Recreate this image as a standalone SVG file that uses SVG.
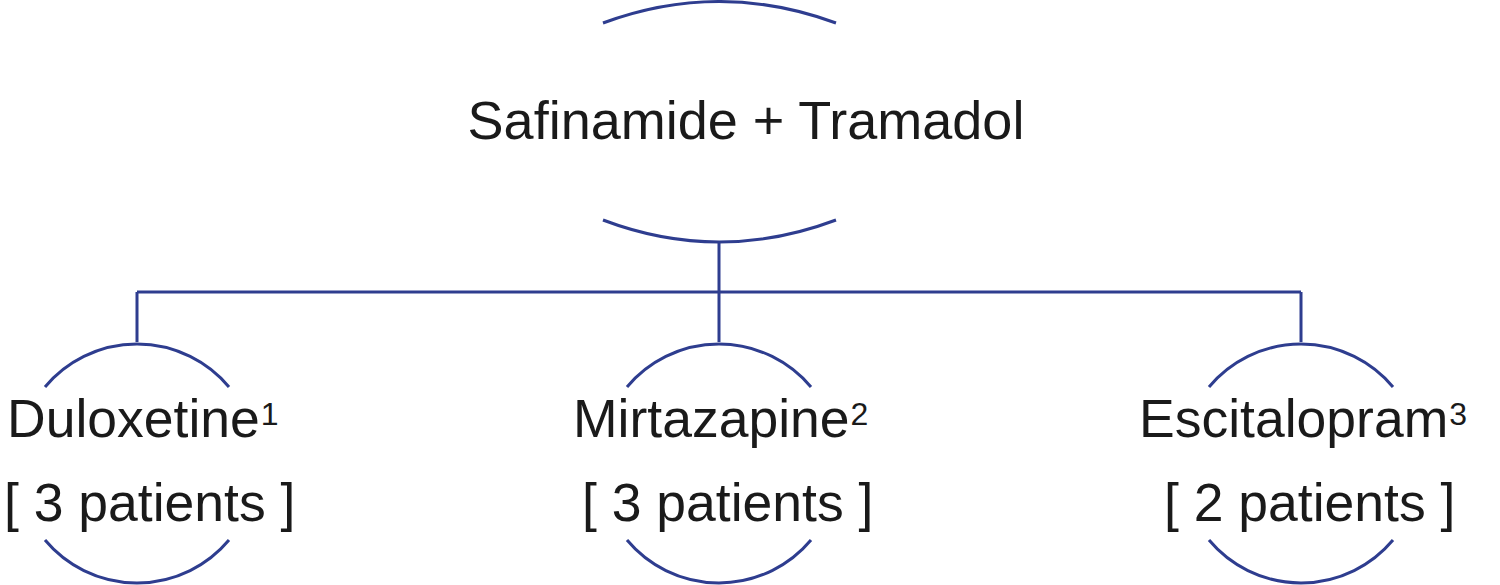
<svg xmlns="http://www.w3.org/2000/svg" width="1500" height="585" viewBox="0 0 1500 585">
<style>
.ln{fill:none;stroke:#2e3d8f;stroke-width:3;stroke-linecap:butt}
.t{font-family:"Liberation Sans",Arial,sans-serif;fill:#1a1a1a}
.big{font-size:54px}
.lab{font-size:53.5px}
.sup{font-size:32px}
</style>
<rect width="1500" height="585" fill="#ffffff"/>
<g id="connectors">
<path class="ln" d="M719,242 V292 M137,292 H1301 M137,292 V342 M719,292 V342 M1301,292 V342"/>
</g>
<g id="root">
<path class="ln" d="M603,23 Q719,-20 836,23"/>
<path class="ln" d="M603,220 Q719,264 836,220"/>
<text class="t big" x="746" y="139" text-anchor="middle">Safinamide + Tramadol</text>
</g>
<g id="duloxetine">
<path class="ln" d="M45,387 A120,120 0 0 1 229,387"/>
<path class="ln" d="M45,540 A120,120 0 0 0 229,540"/>
<text class="t lab" x="7" y="437">Duloxetine<tspan class="sup" dx="1" dy="-12">1</tspan></text>
<text class="t lab" x="4" y="521">[ 3 patients ]</text>
</g>
<g id="mirtazapine">
<path class="ln" d="M627,387 A120,120 0 0 1 811,387"/>
<path class="ln" d="M627,540 A120,120 0 0 0 811,540"/>
<text class="t lab" x="573" y="437">Mirtazapine<tspan class="sup" dx="1" dy="-12">2</tspan></text>
<text class="t lab" x="582" y="521">[ 3 patients ]</text>
</g>
<g id="escitalopram">
<path class="ln" d="M1209,387 A120,120 0 0 1 1393,387"/>
<path class="ln" d="M1209,540 A120,120 0 0 0 1393,540"/>
<text class="t lab" x="1139" y="437">Escitalopram<tspan class="sup" dx="1" dy="-12">3</tspan></text>
<text class="t lab" x="1164" y="521">[ 2 patients ]</text>
</g>
</svg>
